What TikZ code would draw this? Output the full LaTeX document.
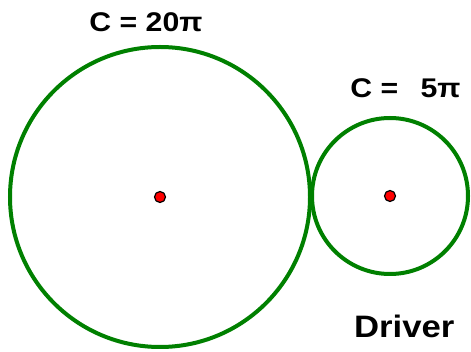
\documentclass[tikz,border=0pt]{standalone}
\usepackage{fontspec}
\setmainfont{Liberation Sans}
\definecolor{gearGreen}{RGB}{0, 128, 0}
\definecolor{hubRed}{RGB}{255, 0, 0}
\usetikzlibrary{positioning}
\newcommand{\wide}[1]{\scalebox{1.12}[1]{#1}}

\begin{document}
\begin{tikzpicture}[x=1pt, y=-1pt,
  gear/.style={circle, draw=gearGreen, line width=4pt, inner sep=0pt},
  hub/.style={circle, draw=black, fill=hubRed, line width=1.2pt,
              minimum size=11pt, inner sep=0pt},
  lbl/.style={font=\fontsize{27}{31}\selectfont\bfseries, anchor=base, inner sep=0pt},
]
  \useasboundingbox (0,0) rectangle (471,352);

  % Wheels
  \node[gear, minimum size=300pt] (big)   at (160,197) {};
  \node[gear, minimum size=156pt] (small) at (390,196) {};

  % Centres
  \node[hub] (bighub)   at (big.center)   {};
  \node[hub] (smallhub) at (small.center) {};

  % Labels
  \node[lbl] (bigtxt)   at (146,31.7) {\wide{C = 20π}};
  \node[lbl] (smalltxt) at (405.5,97.3) {\wide{C =\ \ \kern5pt5π}};
  \node[lbl, font=\fontsize{31}{35}\selectfont\bfseries] (driver) at (404.3,337.3) {\wide{Driver}};

\end{tikzpicture}
\end{document}
